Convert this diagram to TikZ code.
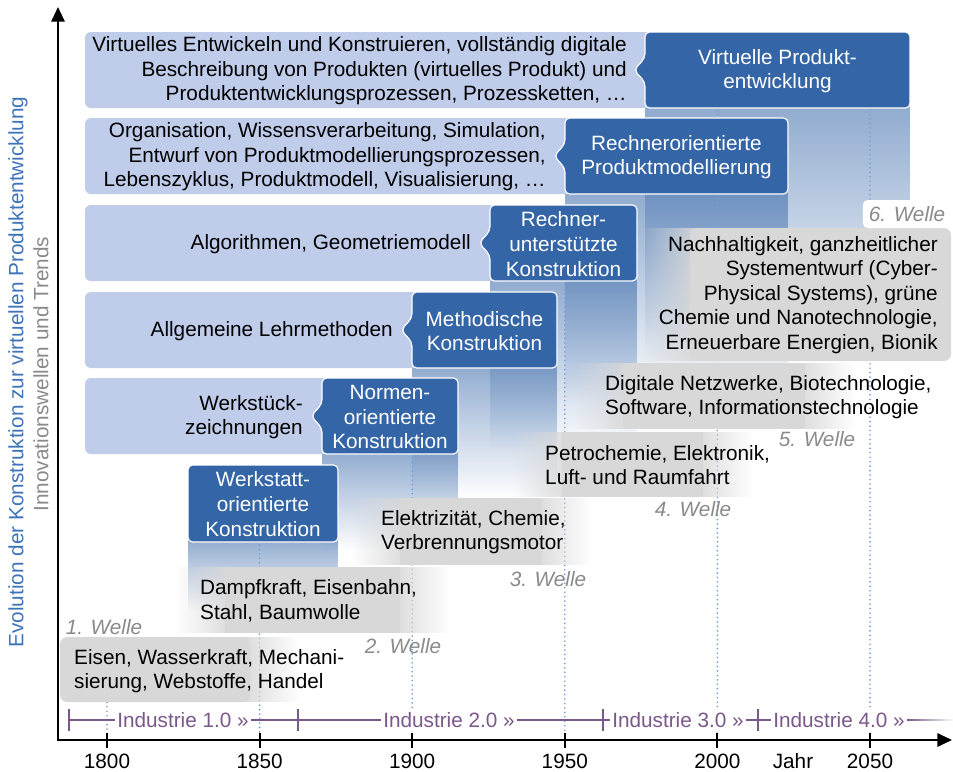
\documentclass[tikz,border=0pt]{standalone}
\usepackage{fontspec}
\setmainfont{Liberation Sans}
\usetikzlibrary{arrows.meta,fadings}

\definecolor{rowblue}{RGB}{192,205,234}
\definecolor{boxblue}{RGB}{52,101,167}
\definecolor{wavegrey}{RGB}{216,216,216}
\definecolor{wellegrey}{RGB}{138,138,138}
\definecolor{dotblue}{RGB}{115,158,222}
\definecolor{indpurple}{RGB}{123,88,138}
\definecolor{axisblue}{RGB}{62,115,186}

\tikzfading[name=fadedown, top color=transparent!45, bottom color=transparent!100]

\def\txtsize{\fontsize{17.7}{21}\selectfont}

\begin{document}
\begin{tikzpicture}[x=0.3mm, y=-0.3mm, font=\txtsize,
    lightrow/.style={fill=rowblue, rounded corners=5},
    darkbox/.style={fill=boxblue, draw=white, line width=1pt, rounded corners=4},
    darktext/.style={text=white, align=center, inner sep=0},
    rowtext/.style={anchor=east, align=right, inner sep=0},
    wavebox/.style={fill=wavegrey, rounded corners=6},
    wavetext/.style={anchor=west, align=left, inner sep=0},
    welle/.style={text=wellegrey, font=\txtsize\itshape, inner sep=1},
    yearline/.style={dotblue, line width=1.6pt, line cap=round, dash pattern=on 0pt off 3.8pt},
    indline/.style={indpurple, line width=2.2pt},
    indtext/.style={text=indpurple, fill=white, inner sep=2},
    axis/.style={line width=1.7pt, {Triangle[length=4.4mm, width=4mm]}-{Triangle[length=4.4mm, width=4mm]}}]

    \useasboundingbox (0,0) rectangle (953,771);

    \foreach \xa/\xb/\yb/\len in {645/910/108/250, 565/788/195/210, 490/637/282/170,
                                  412/557/368/130, 322/458/455/95, 188/338/542/70} {
        \fill[boxblue, path fading=fadedown] (\xa,\yb-4) rectangle (\xb,\yb+\len);
    }

    \foreach \yr/\ytop in {1800/640, 1850/545, 1900/458, 1950/285, 2000/110, 2050/110} {
        \draw[yearline] ({107+(\yr-1800)*3.052},\ytop) -- ({107+(\yr-1800)*3.052},738);
    }

    \foreach \ya/\xd in {32/645, 118/565, 205/490, 292/412, 378/322} {
        \fill[lightrow] (85,\ya) rectangle (\xd+20,\ya+76);
    }
    \node[rowtext] (row1) at (627,71) {Virtuelles Entwickeln und Konstruieren, vollständig digitale\\Beschreibung von Produkten (virtuelles Produkt) und\\Produktentwicklungsprozessen, Prozessketten, …};
    \node[rowtext] (row2) at (546,157) {Organisation, Wissensverarbeitung, Simulation,\\Entwurf von Produktmodellierungsprozessen,\\Lebenszyklus, Produktmodell, Visualisierung, …};
    \node[rowtext] (row3) at (471,244) {Algorithmen, Geometriemodell};
    \node[rowtext] (row4) at (393,331) {Allgemeine Lehrmethoden};
    \node[rowtext] (row5) at (303,417) {Werkstück-\\zeichnungen};

    \foreach \xa/\xb/\ya in {645/910/32, 565/788/118, 490/637/205, 412/557/292, 322/458/378} {
        \draw[darkbox] (\xa-11,\ya+38) -- (\xa,\ya+50) -- (\xa,\ya+76) -- (\xb,\ya+76)
            -- (\xb,\ya) -- (\xa,\ya) -- (\xa,\ya+26) -- cycle;
    }
    \draw[darkbox] (188,465) rectangle (338,542);
    \node[darktext] (box1) at (777.5,71) {Virtuelle Produkt-\\entwicklung};
    \node[darktext] (box2) at (676.5,157) {Rechnerorientierte\\Produktmodellierung};
    \node[darktext] (box3) at (563.5,244) {Rechner-\\unterstützte\\Konstruktion};
    \node[darktext] (box4) at (484.5,331) {Methodische\\Konstruktion};
    \node[darktext] (box5) at (390,417) {Normen-\\orientierte\\Konstruktion};
    \node[darktext] (box6) at (263,504) {Werkstatt-\\orientierte\\Konstruktion};

    \fill[wavebox] (60,637) rectangle (250,702);
    \fill[wavegrey, path fading=east] (240,637) rectangle (300,702);
    \foreach \xa/\xb/\ya/\yb in {175/450/567/633, 350/592/498/565, 512/753/432/497, 573/855/363/429} {
        \fill[wavegrey, path fading=west] (\xa,\ya) rectangle (\xa+60,\yb);
        \fill[wavegrey] (\xa+50,\ya) rectangle (\xb-50,\yb);
        \fill[wavegrey, path fading=east] (\xb-60,\ya) rectangle (\xb,\yb);
    }
    \fill[wavegrey, path fading=west] (640,228) rectangle (700,361);
    \fill[wavebox] (690,228) rectangle (951,361);
    \node[wavetext] (wave1) at (74,671) {Eisen, Wasserkraft, Mechani-\\sierung, Webstoffe, Handel};
    \node[wavetext] (wave2) at (200,601) {Dampfkraft, Eisenbahn,\\Stahl, Baumwolle};
    \node[wavetext] (wave3) at (381,532) {Elektrizität, Chemie,\\Verbrennungsmotor};
    \node[wavetext] (wave4) at (545,465) {Petrochemie, Elektronik,\\Luft- und Raumfahrt};
    \node[wavetext] (wave5) at (605,397) {Digitale Netzwerke, Biotechnologie,\\Software, Informationstechnologie};
    \node[rowtext] (wave6) at (938,295) {Nachhaltigkeit, ganzheitlicher\\Systementwurf (Cyber-\\Physical Systems), grüne\\Chemie und Nanotechnologie,\\Erneuerbare Energien, Bionik};

    \node[welle] (welle1) at (104,627) {1. Welle};
    \node[welle] (welle2) at (403,646) {2. Welle};
    \node[welle] (welle3) at (548,579) {3. Welle};
    \node[welle] (welle4) at (693,509) {4. Welle};
    \node[welle] (welle5) at (817,439) {5. Welle};
    \node[welle, fill=white, rounded corners=4, inner xsep=5, minimum height=8.4mm] (welle6) at (907,214) {6. Welle};

    \coordinate (istart) at (69,720);
    \coordinate (iend) at (953,720);
    \node[indtext] (ind1) at (183,720) {Industrie 1.0 »};
    \node[indtext] (ind2) at (449,720) {Industrie 2.0 »};
    \node[indtext] (ind3) at (678,720) {Industrie 3.0 »};
    \node[indtext] (ind4) at (839,720) {Industrie 4.0 »};
    \draw[indline] (istart) -- (ind1.west);
    \draw[indline] (ind1.east) -- (ind2.west);
    \draw[indline] (ind2.east) -- (ind3.west);
    \draw[indline] (ind3.east) -- (ind4.west);
    \draw[indline, path fading=east] (ind4.east) -- (iend);
    \foreach \tx in {69,298,603,758} {
        \draw[indline, line width=2pt] (\tx,709) -- (\tx,731);
    }

    \coordinate (origin) at (58,740);
    \coordinate (ytip) at (58,7);
    \coordinate (xtip) at (952,740);
    \draw[axis] (ytip) -- (origin) -- (xtip);
    \foreach \yr in {1800,1850,...,2050} {
        \draw[line width=1.7pt] ({107+(\yr-1800)*3.052},733) -- ({107+(\yr-1800)*3.052},748);
        \node[anchor=base] (yr\yr) at ({107+(\yr-1800)*3.052},768) {\yr};
    }
    \node[anchor=base] (jahr) at (793,768) {Jahr};

    \node[rotate=90, text=axisblue] (evolution) at (18,372) {Evolution der Konstruktion zur virtuellen Produktentwicklung};
    \node[rotate=90, text=wellegrey] (trends) at (41,374) {Innovationswellen und Trends};

\end{tikzpicture}
\end{document}
